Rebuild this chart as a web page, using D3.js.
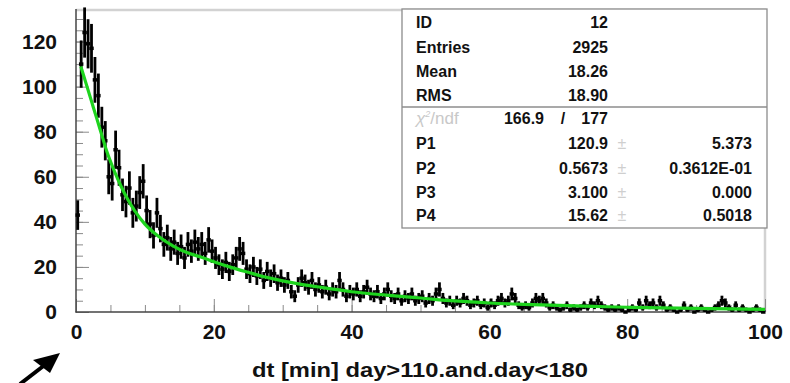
<!DOCTYPE html>
<html>
<head>
<meta charset="utf-8">
<script src="https://cdn.jsdelivr.net/npm/d3@7/dist/d3.min.js"></script>
<style>
  body { margin: 0; background: #fff; }
  svg { display: block; }
  text { font-family: "Liberation Sans", Arial, Helvetica, sans-serif; font-weight: bold; fill: #111; }
</style>
</head>
<body>
<div id="chart"></div>
<script>
// histogram: 200 bins of 0.5 min between 0 and 100
var binWidth = 0.5;
var counts = [
  43, 110, 124, 119, 117, 103, 96, 82, 76, 60,
  57, 72, 64, 52, 49, 55, 44, 47, 53, 58,
  45, 39, 34, 44, 37, 30, 33, 28, 31, 26,
  29, 24, 30, 27, 31, 28, 30, 26, 32, 27,
  24, 21, 19, 22, 18, 21, 24, 28, 26, 19,
  17, 20, 16, 19, 14, 18, 15, 17, 13, 15,
  12, 14, 9, 7, 12, 15, 13, 11, 14, 10,
  12, 9, 11, 8, 10, 9, 14, 10, 7, 9,
  8, 10, 7, 9, 11, 8, 7, 9, 6, 8,
  10, 7, 6, 8, 5, 7, 6, 8, 5, 6,
  7, 4, 6, 5, 8, 10, 6, 4, 5, 3,
  5, 4, 6, 5, 3, 4, 5, 3, 4, 2,
  4, 3, 5, 6, 4, 5, 8, 6, 3, 2,
  3, 2, 4, 6, 5, 6, 4, 2, 3, 2,
  1, 2, 3, 1, 2, 1, 2, 3, 2, 4,
  3, 5, 3, 2, 1, 2, 1, 2, 1, 0,
  1, 2, 1, 4, 2, 5, 3, 4, 2, 5,
  3, 1, 2, 1, 0, 1, 3, 1, 2, 0,
  1, 2, 1, 0, 1, 2, 3, 5, 4, 2,
  1, 3, 1, 2, 1, 0, 1, 2, 1, 0
];

// fitted curve
var fitX = [0.7, 1.5, 2.5, 3.5, 4.5, 5.5, 6.5, 7.5, 8.5, 10, 12, 14, 16, 18, 20, 22.5, 25, 27.5, 30, 32.5, 35, 40, 45, 50, 55, 60, 65, 70, 75, 80, 85, 90, 95, 100];
var fitY = [109, 101, 91, 81, 71, 63, 56, 50, 45, 39, 33.5, 29.5, 26.5, 24.5, 22.3, 19.8, 17.6, 15.5, 13.8, 12.4, 11.2, 9.0, 7.5, 6.2, 4.9, 4.0, 3.4, 2.9, 2.5, 2.1, 1.8, 1.6, 1.4, 1.2];

var xTicks = [0, 20, 40, 60, 80, 100];
var yTicks = [0, 20, 40, 60, 80, 100, 120];
var xTitle = "dt [min]  day>110.and.day<180";

var statLabels = ["ID", "Entries", "Mean", "RMS"];
var statValues = ["12", "2925", "18.26", "18.90"];
var chi2Value = "166.9", ndfValue = "177";
var parNames = ["P1", "P2", "P3", "P4"];
var parValues = ["120.9", "0.5673", "3.100", "15.62"];
var parErrors = ["5.373", "0.3612E-01", "0.000", "0.5018"];

var W = 790, H = 383;
var svg = d3.select("#chart").append("svg")
  .attr("width", W)
  .attr("height", H);

var x = d3.scaleLinear().domain([0, 100]).range([76, 765]);
var y = d3.scaleLinear().domain([0, 134]).range([312, 10]);

// frame, light top/right
svg.append("line").attr("x1", 76).attr("y1", 10).attr("x2", 766).attr("y2", 10)
  .style("stroke", "#d2d2d2").style("stroke-width", 2.5);
svg.append("line").attr("x1", 765).attr("y1", 10).attr("x2", 765).attr("y2", 312)
  .style("stroke", "#d2d2d2").style("stroke-width", 2.5);

// minor ticks (every 5), pointing inside
svg.append("g").attr("class", "xMinor")
  .attr("transform", "translate(0,312)")
  .call(d3.axisBottom(x).tickValues(d3.range(0, 101, 5)).tickSize(-7).tickFormat(""));
svg.append("g").attr("class", "yMinor")
  .attr("transform", "translate(76,0)")
  .call(d3.axisLeft(y).tickValues(d3.range(0, 131, 5)).tickSize(-7).tickFormat(""));

// major ticks + labels
svg.append("g").attr("class", "xAxis")
  .attr("transform", "translate(0,312)")
  .call(d3.axisBottom(x).tickValues(xTicks).tickSize(-13).tickPadding(12));
svg.append("g").attr("class", "yAxis")
  .attr("transform", "translate(76,0)")
  .call(d3.axisLeft(y).tickValues(yTicks).tickSize(-13).tickPadding(19));

svg.selectAll(".domain").remove();
svg.selectAll(".tick line").style("stroke", "#8a8a8a").style("stroke-width", 1);
svg.selectAll(".xAxis text, .yAxis text")
  .style("font-size", "21px")
  .style("font-family", "\"Liberation Sans\", Arial, sans-serif")
  .style("font-weight", "bold")
  .style("fill", "#111");

// left and bottom axis lines
svg.append("line").attr("x1", 76).attr("y1", 9).attr("x2", 76).attr("y2", 312.5)
  .style("stroke", "#444").style("stroke-width", 1.5);
svg.append("line").attr("x1", 75.5).attr("y1", 312).attr("x2", 765).attr("y2", 312)
  .style("stroke", "#444").style("stroke-width", 1.5);

// histogram with error bars
var bins = counts.map(function (c, i) { return { lo: i * binWidth, hi: (i + 1) * binWidth, n: c }; });
var hist = svg.append("g").attr("class", "hist");
hist.selectAll("line.err")
  .data(bins.filter(function (d) { return d.n > 0; }))
  .enter().append("line")
  .attr("class", "err")
  .attr("x1", function (d) { return x((d.lo + d.hi) / 2); })
  .attr("x2", function (d) { return x((d.lo + d.hi) / 2); })
  .attr("y1", function (d) { return y(d.n + Math.sqrt(d.n)); })
  .attr("y2", function (d) { return y(Math.max(0, d.n - Math.sqrt(d.n))); })
  .style("stroke", "#000")
  .style("stroke-width", 2.8);
hist.selectAll("line.bin")
  .data(bins)
  .enter().append("line")
  .attr("class", "bin")
  .attr("x1", function (d) { return x(d.lo) - 0.5; })
  .attr("x2", function (d) { return x(d.hi) + 0.5; })
  .attr("y1", function (d) { return y(d.n); })
  .attr("y2", function (d) { return y(d.n); })
  .style("stroke", "#000")
  .style("stroke-width", 3.5);

// fit curve
var fitLine = d3.line()
  .x(function (d) { return x(d[0]); })
  .y(function (d) { return y(d[1]); })
  .curve(d3.curveMonotoneX);
svg.append("path")
  .datum(fitX.map(function (v, i) { return [v, fitY[i]]; }))
  .attr("d", fitLine)
  .style("fill", "none")
  .style("stroke", "#1ed41e")
  .style("stroke-width", 3.2);

// stats box
var box = svg.append("g").attr("class", "stats");
box.append("rect")
  .attr("x", 402).attr("y", 9).attr("width", 365).attr("height", 219)
  .style("fill", "#fff").style("stroke", "#8c8c8c").style("stroke-width", 1.3);
box.append("line").attr("x1", 402).attr("x2", 767).attr("y1", 107).attr("y2", 107)
  .style("stroke", "#8c8c8c").style("stroke-width", 1.3);

var rowY = [28, 52.5, 77, 101, 124, 149, 173.5, 197.5, 221];
statLabels.forEach(function (s, i) {
  box.append("text").attr("x", 416).attr("y", rowY[i]).style("font-size", "16px").text(s);
  box.append("text").attr("x", 608).attr("y", rowY[i]).attr("text-anchor", "end").style("font-size", "16px").text(statValues[i]);
});

var chiText = box.append("text").attr("x", 416).attr("y", rowY[4])
  .style("font-size", "17px").style("font-weight", "normal").style("fill", "#c8c8c8")
  .style("font-style", "italic");
chiText.append("tspan").text("\u03c7");
chiText.append("tspan").attr("dy", -7).style("font-size", "9px").text("2");
chiText.append("tspan").attr("dy", 7).style("font-style", "normal").text("/ndf");
box.append("text").attr("x", 544).attr("y", rowY[4]).attr("text-anchor", "end").style("font-size", "16px").text(chi2Value);
box.append("text").attr("x", 563).attr("y", rowY[4]).attr("text-anchor", "middle").style("font-size", "16px").text("/");
box.append("text").attr("x", 608).attr("y", rowY[4]).attr("text-anchor", "end").style("font-size", "16px").text(ndfValue);

parNames.forEach(function (p, i) {
  var yy = rowY[5 + i];
  box.append("text").attr("x", 416).attr("y", yy).style("font-size", "16px").text(p);
  box.append("text").attr("x", 608).attr("y", yy).attr("text-anchor", "end").style("font-size", "16px").text(parValues[i]);
  box.append("text").attr("x", 622).attr("y", yy).attr("text-anchor", "middle")
    .style("font-size", "16px").style("font-weight", "normal").style("fill", "#cfcfcf").text("\u00b1");
  box.append("text").attr("x", 752).attr("y", yy).attr("text-anchor", "end").style("font-size", "16px").text(parErrors[i]);
});

// x axis title
svg.append("text")
  .attr("x", 252).attr("y", 377)
  .attr("textLength", 336).attr("lengthAdjust", "spacingAndGlyphs")
  .style("font-size", "20px")
  .text(xTitle);

// arrow pointing at the origin
svg.append("line").attr("x1", 20).attr("y1", 384).attr("x2", 46).attr("y2", 364)
  .style("stroke", "#000").style("stroke-width", 4);
svg.append("path")
  .attr("d", "M60,353 L33,360 L50,373 Z")
  .style("fill", "#000");
</script>
</body>
</html>
